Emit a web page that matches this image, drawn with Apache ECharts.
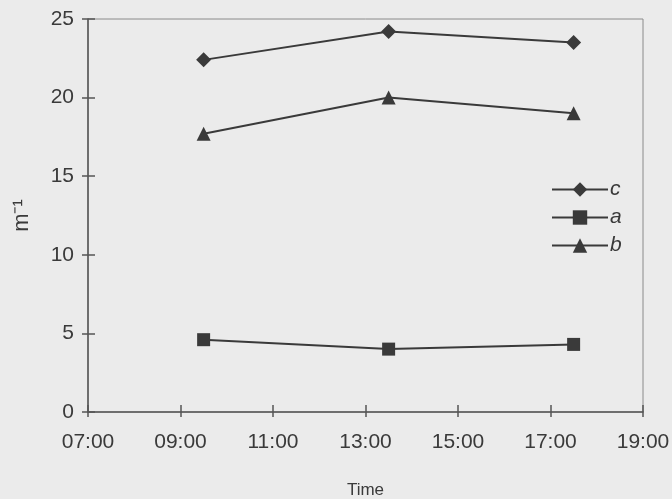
<!DOCTYPE html>
<html><head><meta charset="utf-8">
<script src="https://cdn.jsdelivr.net/npm/echarts@6/dist/echarts.min.js"></script>
<style>html,body{margin:0;padding:0;background:#ebebeb}#c{width:672px;height:499px}</style>
</head><body><div id="c"></div>
<script>
const times = [9.5, 13.5, 17.5];
const seriesNames = ['c', 'a', 'b'];
const cValues = [22.4, 24.2, 23.5];
const aValues = [4.6, 4.0, 4.3];
const bValues = [17.7, 20.0, 19.0];
const xTickLabels = ['07:00','09:00','11:00','13:00','15:00','17:00','19:00'];
const yTicks = [0, 5, 10, 15, 20, 25];

const ink = '#3a3a3a';
const font = 'Liberation Sans, Arial, sans-serif';
function fmtX(v){ const i = Math.round((v-7)/2); return xTickLabels[i] || ''; }
function pairs(vals){ return times.map((t,i)=>[t, vals[i]]); }

const chart = echarts.init(document.getElementById('c'));
const baseX = {type:'value', min:7, max:19, interval:2, position:'bottom'};
const baseY = {type:'value', min:0, max:25, interval:5, position:'left'};
chart.setOption({
  backgroundColor:'#ebebeb',
  animation:false,
  grid:{left:88, right:29, top:19, bottom:87, containLabel:false, outerBoundsMode:'none',
    show:true, borderColor:'#8a8a8a', borderWidth:1, backgroundColor:'transparent'},
  xAxis:[
    Object.assign({}, baseX, {
      name:'Time', nameLocation:'middle', nameGap:70,
      nameTextStyle:{fontFamily:font, fontSize:17, color:ink},
      axisLine:{show:true, lineStyle:{color:'#555', width:1.5}},
      axisTick:{show:true, inside:false, length:5, lineStyle:{color:'#555', width:1.5}},
      axisLabel:{show:true, formatter:fmtX, margin:20, fontFamily:font, fontSize:21, color:ink},
      splitLine:{show:false}
    }),
    Object.assign({}, baseX, {
      axisLine:{show:false}, axisLabel:{show:false}, splitLine:{show:false},
      axisTick:{show:true, inside:true, length:7, lineStyle:{color:'#555', width:1.5},
        interval:function(i,v){ return i < 6; }}
    })
  ],
  yAxis:[
    Object.assign({}, baseY, {
      name:'m\u207B\u00B9', nameLocation:'middle', nameGap:55, nameRotate:90,
      nameTextStyle:{fontFamily:font, fontSize:22, color:ink},
      axisLine:{show:true, lineStyle:{color:'#555', width:1.5}},
      axisTick:{show:true, inside:false, length:6, lineStyle:{color:'#555', width:1.5}},
      axisLabel:{show:true, margin:14, fontFamily:font, fontSize:21, color:ink,
        formatter:function(v){ return yTicks.indexOf(v) >= 0 ? String(v) : ''; }},
      splitLine:{show:false}
    }),
    Object.assign({}, baseY, {
      axisLine:{show:false}, axisLabel:{show:false}, splitLine:{show:false},
      axisTick:{show:true, inside:true, length:7, lineStyle:{color:'#555', width:1.5}}
    })
  ],
  legend:{
    orient:'vertical', left:546, top:174, itemWidth:56, itemHeight:18, itemGap:7,
    data:seriesNames,
    textStyle:{fontFamily:font, fontSize:21, fontStyle:'italic', color:ink, padding:[0,0,0,-3]}
  },
  series:[
    {name:'c', type:'line', data:pairs(cValues), symbol:'diamond', symbolSize:15,
      lineStyle:{color:ink, width:2}, itemStyle:{color:ink}},
    {name:'a', type:'line', data:pairs(aValues), symbol:'rect', symbolSize:13,
      lineStyle:{color:ink, width:2}, itemStyle:{color:ink}},
    {name:'b', type:'line', data:pairs(bValues), symbol:'triangle', symbolSize:14,
      lineStyle:{color:ink, width:2}, itemStyle:{color:ink}}
  ]
});
</script></body></html>
